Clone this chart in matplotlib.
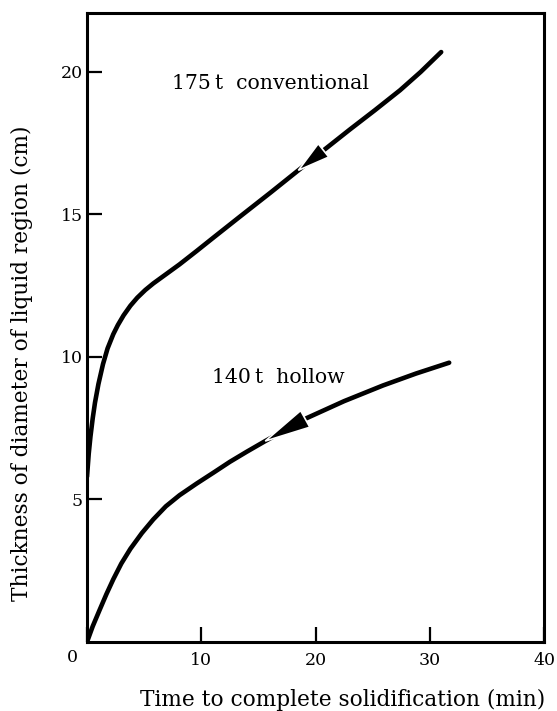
import numpy as np
import matplotlib
matplotlib.use("Agg")
import matplotlib.pyplot as plt
from matplotlib.patches import Polygon
from matplotlib.transforms import offset_copy

# Liquid-core thickness versus time to complete solidification
conv_time = [0.0, 0.15, 0.3, 0.5, 0.7, 1.0, 1.4, 1.8, 2.3, 2.7, 3.2, 3.8, 4.4, 5.1, 5.8,
             6.9, 8.1, 9.6, 11.1, 13.4, 16.1, 18.5, 20.7, 23.0, 25.2, 27.4, 29.2, 31.0]
conv_thick = [5.8, 6.6, 7.2, 7.85, 8.4, 9.05, 9.75, 10.3, 10.8, 11.12, 11.46, 11.8, 12.08, 12.35, 12.58,
              12.9, 13.25, 13.72, 14.2, 14.93, 15.78, 16.55, 17.25, 17.98, 18.66, 19.36, 20.0, 20.7]

hollow_time = [0.0, 0.5, 1.1, 1.7, 2.3, 3.0, 3.8, 4.8, 5.8, 6.9, 8.1, 9.6, 11.1,
               12.5, 14.0, 15.6, 17.4, 19.2, 22.5, 25.9, 28.8, 31.7]
hollow_thick = [0.0, 0.55, 1.12, 1.68, 2.2, 2.75, 3.27, 3.82, 4.3, 4.76, 5.15, 5.56, 5.95,
                6.32, 6.68, 7.05, 7.45, 7.85, 8.45, 9.0, 9.42, 9.8]

x_ticks = [0, 10, 20, 30, 40]
x_tick_labels = ["", "10", "20", "30", "40"]
y_ticks = [5, 10, 15, 20]
y_tick_labels = ["5", "10", "15", "20"]

# direction arrows: (tip time, base time) along each curve
conv_arrow = (18.5, 20.7)
hollow_arrow = (15.6, 19.1)

plt.rcParams["font.family"] = ["DejaVu Serif"]

fig = plt.figure(figsize=(5.57, 7.11), dpi=100)
ax = fig.add_axes([87 / 557, 1 - 642 / 711, 457 / 557, 629 / 711])

line_kw = dict(color="black", lw=3.3, solid_capstyle="round", solid_joinstyle="round")
ax.plot(conv_time, conv_thick, **line_kw)
ax.plot(hollow_time, hollow_thick, **line_kw)

ax.set_xlim(0, 40)
ax.set_ylim(0, 22.07)
ax.set_xticks(x_ticks)
ax.set_xticklabels(x_tick_labels)
ax.set_yticks(y_ticks)
ax.set_yticklabels(y_tick_labels)
ax.tick_params(direction="in", length=11, width=1.6, labelsize=12.5, colors="black")
ax.tick_params(axis="x", pad=7)
ax.tick_params(axis="y", pad=3)
for sp in ax.spines.values():
    sp.set_linewidth(2.2)

# single shared origin label
ax.text(0, 0, "0", fontsize=12.5, ha="center", va="top",
        transform=offset_copy(ax.transData, fig=fig, x=-15, y=-7, units="dots"))


def draw_arrow(xs, ys, tip_x, base_x, half_w):
    tip = ax.transData.transform((tip_x, np.interp(tip_x, xs, ys)))
    base = ax.transData.transform((base_x, np.interp(base_x, xs, ys)))
    d = base - tip
    n = np.array([-d[1], d[0]]) / np.hypot(*d)
    pts = [tip, base + n * half_w, base - n * half_w]
    ax.add_patch(Polygon(pts, closed=True, transform=None, facecolor="black",
                         edgecolor="white", lw=1.2, zorder=5))


fig.canvas.draw()
draw_arrow(conv_time, conv_thick, *conv_arrow, half_w=8.5)
draw_arrow(hollow_time, hollow_thick, *hollow_arrow, half_w=9.5)

ax.text(7.44, 19.4, "175\u2009t  conventional", fontsize=14.7, va="baseline", ha="left")
ax.text(10.94, 9.09, "140\u2009t  hollow", fontsize=14.7, va="baseline", ha="left")

fig.text(343 / 557, 1 - 700 / 711, "Time to complete solidification (min)",
         fontsize=15.6, ha="center", va="center")
fig.text(22 / 557, 1 - 363 / 711, "Thickness of diameter of liquid region (cm)",
         fontsize=15.6, ha="center", va="center", rotation=90)

fig.savefig("out.png", dpi=100)
